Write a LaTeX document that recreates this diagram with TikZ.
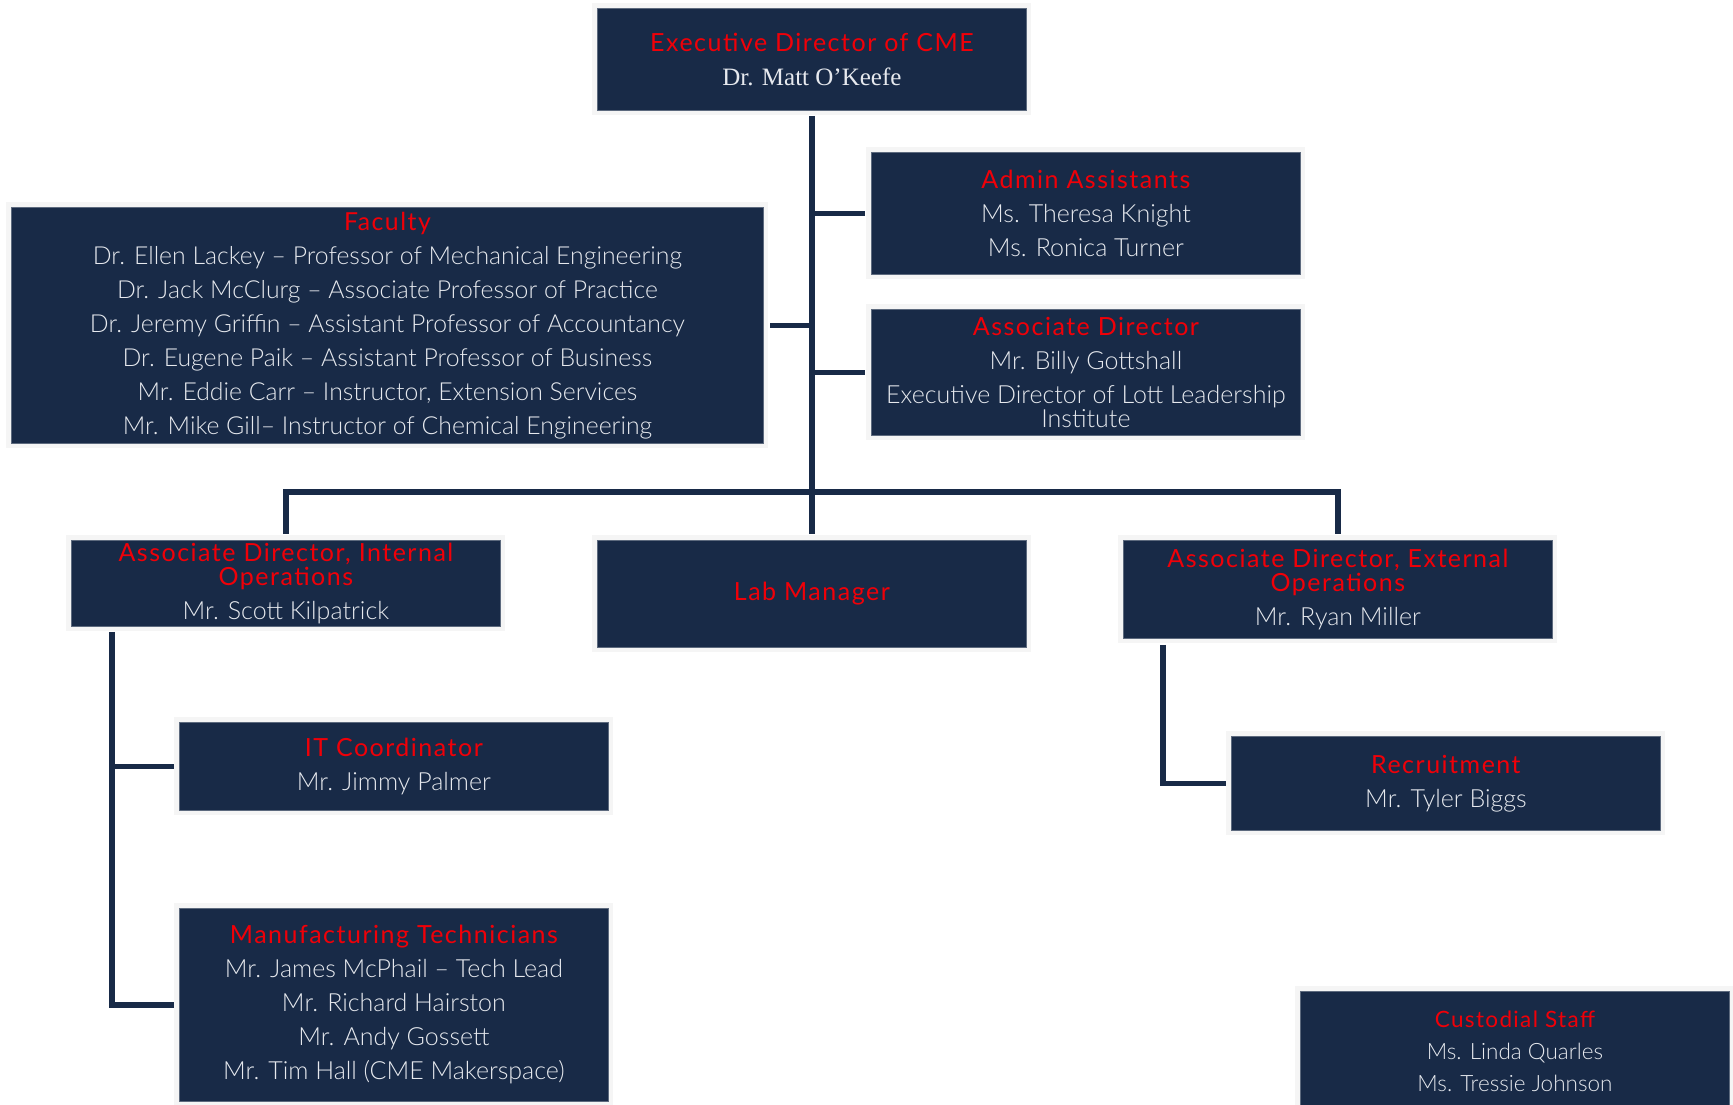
\documentclass[tikz,border=0pt]{standalone}
\usepackage{fontspec}
\setmainfont{Lato}
\newfontfamily\bodyfont{Lato}[UprightFont=* Light]
\newfontfamily\rolefont{Lato}[LetterSpace=6]
\newfontfamily\namefont{Liberation Serif}
\usepackage{tikz}
\usetikzlibrary{positioning,calc}
\definecolor{cmenavy}{RGB}{24,42,71}
\definecolor{cmered}{RGB}{240,0,8}
\definecolor{cmetext}{RGB}{230,233,238}
\newcommand{\role}[1]{{\rolefont\color{cmered}#1}}

\begin{document}
\begin{tikzpicture}[
    x=1pt, y=-1pt,
    unitbox/.style={anchor=north west, fill=cmenavy, draw=cmenavy!70!white, line width=0.8pt, text=cmetext,
        align=center, inner sep=0pt, minimum width=429pt,
        font=\bodyfont\fontsize{25}{34}\selectfont,
        preaction={draw=black!4, line width=10pt}},
    link/.style={draw=cmenavy, line width=5.5pt}
]
\useasboundingbox (0,0) rectangle (1733,1105);

% top level
\node[unitbox, minimum height=102pt] (exec) at (597,8) {\role{Executive Director of CME}\\{\namefont Dr. Matt O’Keefe}};
\node[unitbox, minimum height=122pt] (admin) at (871,152) {\role{Admin Assistants}\\Ms. Theresa Knight\\Ms. Ronica Turner};
\node[unitbox, minimum height=126pt] (assoc) at (871,309) {\role{Associate Director}\\Mr. Billy Gottshall\\Executive Director of Lott Leadership\\[-10pt]Institute};
\node[unitbox, minimum width=752pt, minimum height=236pt, font=\bodyfont\fontsize{24.8}{34}\selectfont] (faculty) at (11,207) {\role{Faculty}\\
    Dr. Ellen Lackey – Professor of Mechanical Engineering\\
    Dr. Jack McClurg – Associate Professor of Practice\\
    Dr. Jeremy Griffin – Assistant Professor of Accountancy\\
    Dr. Eugene Paik – Assistant Professor of Business\\
    Mr. Eddie Carr – Instructor, Extension Services\\
    Mr. Mike Gill– Instructor of Chemical Engineering};

% second level
\node[unitbox, minimum height=86pt] (internal) at (71,540) {\role{Associate Director, Internal}\\[-10pt]\role{Operations}\\Mr. Scott Kilpatrick};
\node[unitbox, minimum height=107pt] (lab) at (597,540) {\role{Lab Manager}};
\node[unitbox, minimum height=98pt] (external) at (1123,540) {\role{Associate Director, External}\\[-10pt]\role{Operations}\\Mr. Ryan Miller};

% third level
\node[unitbox, minimum height=88pt] (it) at (179,722) {\role{IT Coordinator}\\Mr. Jimmy Palmer};
\node[unitbox, minimum height=193pt] (mfg) at (179,908) {\role{Manufacturing Technicians}\\
    Mr. James McPhail – Tech Lead\\
    Mr. Richard Hairston\\
    Mr. Andy Gossett\\
    Mr. Tim Hall (CME Makerspace)};
\node[unitbox, minimum height=94pt] (recruit) at (1231,736) {\role{Recruitment}\\Mr. Tyler Biggs};
\node[unitbox, minimum height=120pt, font=\bodyfont\fontsize{22.5}{32}\selectfont] (custodial) at (1300,991) {\role{Custodial Staff}\\Ms. Linda Quarles\\Ms. Tressie Johnson};

% connectors
\coordinate (bar) at (812,492);
\draw[link, shorten <=5pt, shorten >=6pt] (exec.south) -- (lab.north);
\draw[link, shorten >=6pt] (exec.south |- admin.west) -- (admin.west);
\draw[link, shorten >=6pt] (exec.south |- assoc.west) -- (assoc.west);
\draw[link, shorten >=6pt] (exec.south |- faculty.east) -- (faculty.east);
\draw[link, shorten <=6pt, shorten >=6pt] (internal.north) -- (internal.north |- bar) -- (external.north |- bar) -- (external.north);
\draw[link, shorten <=5pt, shorten >=5pt] ([xshift=41pt]internal.south west) |- (mfg.west);
\draw[link, shorten >=5pt] ([xshift=41pt]internal.south west |- it.west) -- (it.west);
\draw[link, shorten <=6pt, shorten >=5pt] ([xshift=40pt]external.south west) |- (recruit.west);
\end{tikzpicture}
\end{document}
